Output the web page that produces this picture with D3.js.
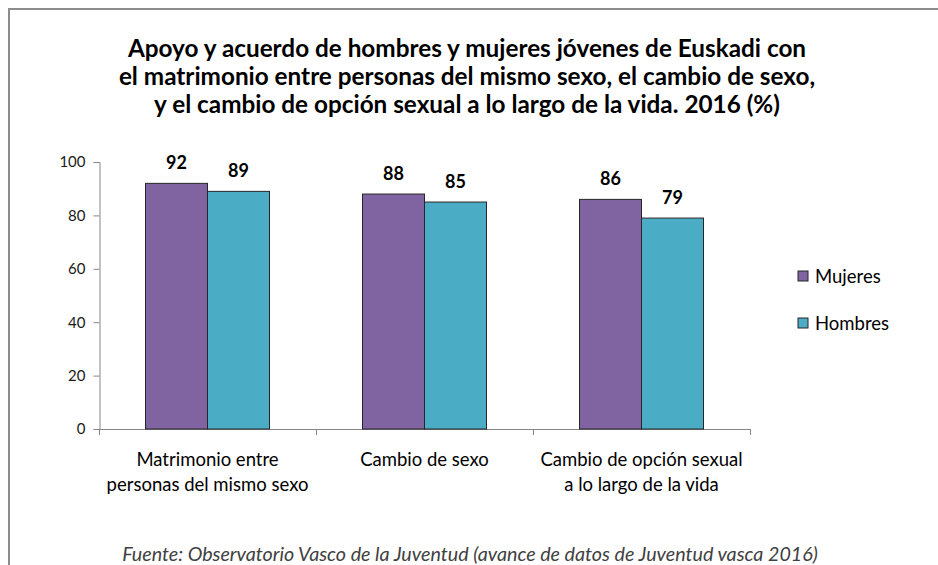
<!DOCTYPE html>
<html>
<head>
<meta charset="utf-8">
<script src="https://cdn.jsdelivr.net/npm/d3@7"></script>
<style>
  body{margin:0;background:#fff;}
  svg{display:block;font-family:Lato,"Open Sans",sans-serif;}
</style>
</head>
<body>
<div id="chart"></div>
<script>
var categories = [["Matrimonio entre","personas del mismo sexo"],["Cambio de sexo"],["Cambio de opción sexual","a lo largo de la vida"]];
var seriesNames = ["Mujeres","Hombres"];
var mujeres = [92,88,86];
var hombres = [89,85,79];
var yTicks = [0,20,40,60,80,100];
var colors = ["#8064A2","#4BACC6"];
var titleLines = ["Apoyo y acuerdo de hombres y mujeres jóvenes de Euskadi con",
  "el matrimonio entre personas del mismo sexo, el cambio de sexo,",
  "y el cambio de opción sexual a lo largo de la vida. 2016 (%)"];
var source = "Fuente: Observatorio Vasco de la Juventud (avance de datos de Juventud vasca 2016)";

var W = 938, H = 565;
var svg = d3.select("#chart").append("svg").attr("width",W).attr("height",H);

// frame (only top and left edges visible)
svg.append("line").attr("x1",9).attr("x2",W).attr("y1",9).attr("y2",9)
  .attr("stroke","#8c8c8c").attr("stroke-width",2);
svg.append("line").attr("x1",9).attr("x2",9).attr("y1",8).attr("y2",H)
  .attr("stroke","#8c8c8c").attr("stroke-width",2);

// title
svg.append("g").selectAll("text").data(titleLines).enter().append("text")
  .attr("x",467).attr("y",function(d,i){return 57+28*i;})
  .attr("text-anchor","middle").attr("font-weight","bold").attr("font-size",24.3)
  .attr("fill","#000").text(function(d){return d;});

var plotLeft = 99, plotRight = 750, plotTop = 162, plotBottom = 429;
var x0 = d3.scaleBand().domain(d3.range(categories.length)).range([plotLeft,plotRight]);
// gap width 150%: empty space on each side of a group = 0.75 of a bar
var gap = 0.75/3.5;
var x1 = d3.scaleBand().domain(d3.range(seriesNames.length))
  .range([x0.bandwidth()*gap, x0.bandwidth()*(1-gap)]);
var y = d3.scaleLinear().domain([0,100]).range([plotBottom,plotTop]);

// y axis
var yAxis = svg.append("g").attr("transform","translate("+(plotLeft+0.5)+",0)")
  .call(d3.axisLeft(y).tickValues(yTicks).tickSize(6).tickPadding(8));
yAxis.select(".domain").attr("stroke","#868686");
yAxis.selectAll(".tick line").attr("stroke","#868686");
yAxis.selectAll(".tick text").attr("font-size",15).attr("fill","#1a1a1a")
  .attr("font-family","Lato,'Open Sans',sans-serif");

// x axis line and ticks at band boundaries
svg.append("line").attr("x1",plotLeft).attr("x2",plotRight).attr("y1",plotBottom+0.5).attr("y2",plotBottom+0.5)
  .attr("stroke","#868686");
svg.append("g").selectAll("line").data(d3.range(categories.length+1)).enter().append("line")
  .attr("x1",function(d){return Math.round(plotLeft + d*x0.step())+0.5;})
  .attr("x2",function(d){return Math.round(plotLeft + d*x0.step())+0.5;})
  .attr("y1",plotBottom).attr("y2",plotBottom+6).attr("stroke","#868686");

var data = [mujeres,hombres];
var groups = svg.append("g").selectAll("g").data(categories).enter().append("g")
  .attr("transform",function(d,i){return "translate("+x0(i)+",0)";});

groups.selectAll("rect").data(function(d,i){return data.map(function(s){return s[i];});})
  .enter().append("rect")
  .attr("x",function(d,j){return x1(j);})
  .attr("y",function(d){return y(d);})
  .attr("width",x1.bandwidth())
  .attr("height",function(d){return plotBottom - y(d);})
  .attr("fill",function(d,j){return colors[j];})
  .attr("stroke","#262626").attr("stroke-width",1);

groups.selectAll("text.val").data(function(d,i){return data.map(function(s){return s[i];});})
  .enter().append("text").attr("class","val")
  .attr("x",function(d,j){return x1(j)+x1.bandwidth()/2;})
  .attr("y",function(d){return y(d)-14;})
  .attr("text-anchor","middle").attr("font-weight","bold").attr("font-size",18)
  .attr("fill","#000").text(function(d){return d;});

// category labels
groups.selectAll("text.cat").data(function(d){return d;}).enter().append("text").attr("class","cat")
  .attr("x",x0.bandwidth()/2)
  .attr("y",function(d,k){return 466+25*k;})
  .attr("text-anchor","middle").attr("font-size",18.5).attr("fill","#000")
  .text(function(d){return d;});

// legend
var legend = svg.append("g").selectAll("g").data(seriesNames).enter().append("g")
  .attr("transform",function(d,i){return "translate(798,"+(271+47*i)+")";});
legend.append("rect").attr("width",10).attr("height",10)
  .attr("fill",function(d,i){return colors[i];}).attr("stroke","#262626");
legend.append("text").attr("x",17).attr("y",11.5).attr("font-size",18.5).attr("fill","#000")
  .text(function(d){return d;});

// source
svg.append("text").attr("x",470).attr("y",561).attr("text-anchor","middle")
  .attr("font-style","italic").attr("font-size",19.7).attr("fill","#404040").text(source);
</script>
</body>
</html>
